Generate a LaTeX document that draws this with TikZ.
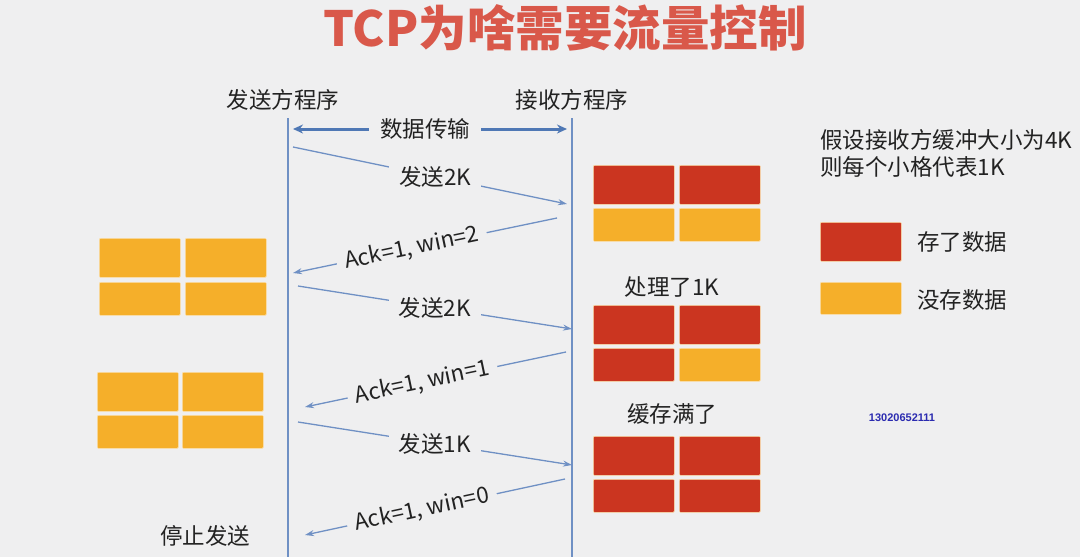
\documentclass[tikz,border=0pt]{standalone}
\usepackage{fontspec}
\setmainfont{Noto Sans CJK SC}
\newfontfamily\numfont{Liberation Sans}
\usetikzlibrary{arrows.meta}
\definecolor{bg}{HTML}{EFEFF0}
\definecolor{cred}{HTML}{CB3520}
\definecolor{cyel}{HTML}{F5AF2A}
\definecolor{ttl}{HTML}{D9584A}
\definecolor{lblue}{HTML}{6F90C4}
\definecolor{dblue}{HTML}{4F78B5}
\definecolor{txt}{HTML}{222222}
\definecolor{numblue}{HTML}{2B2BB0}
\tikzset{
  life/.style={lblue, line width=1.2pt},
  msg/.style={lblue, line width=1.3pt, -{Stealth[length=9pt,width=6pt]}},
  bigarrow/.style={dblue, line width=3pt, -{Stealth[length=10pt,width=9pt]}},
  txtstyle/.style={text=txt, font=\fontsize{22.5}{26}\selectfont, inner sep=0pt},
  lbl/.style={txtstyle, fill=bg, inner xsep=10pt, inner ysep=4pt},
  slbl/.style={txtstyle, fill=bg, sloped, inner xsep=8pt, inner ysep=2pt},
  cellbox/.style={draw=white!60!cyel, line width=0.6pt, rounded corners=1pt, minimum width=81pt, anchor=north west, inner sep=0pt},
  rtop/.style={cellbox, fill=cred, minimum height=39pt},
  rbot/.style={cellbox, fill=cred, minimum height=33pt},
  ytop/.style={cellbox, fill=cyel, minimum height=39pt},
  ybot/.style={cellbox, fill=cyel, minimum height=33pt},
}
\begin{document}
\begin{tikzpicture}[x=1pt,y=-1pt]
\fill[bg] (0,0) rectangle (1080,557);
\useasboundingbox (0,0) rectangle (1080,557);

% title
\node[text=ttl, font=\bfseries\fontsize{48.5}{52}\selectfont, inner sep=0pt] (title) at (565,28) {TCP为啥需要流量控制};

% headers
\node[txtstyle] (snd) at (283,100) {发送方程序};
\node[txtstyle] (rcv) at (572,100) {接收方程序};

% lifelines
\coordinate (Ltop) at (288,118);
\coordinate (Lbot) at (288,557);
\coordinate (Rtop) at (572,118);
\coordinate (Rbot) at (572,557);
\draw[life] (Ltop) -- (Lbot);
\draw[life] (Rtop) -- (Rbot);

% data transfer
\node[txtstyle, inner xsep=11pt] (dt) at (425,129) {数据传输};
\coordinate (dtL) at (293,129);
\coordinate (dtR) at (567,129);
\draw[bigarrow] (dt) -- (dtL);
\draw[bigarrow] (dt) -- (dtR);

% messages
\coordinate (m1s) at (293,147);  \coordinate (m1e) at (567,204);
\coordinate (m2s) at (557,218);  \coordinate (m2e) at (293,273);
\coordinate (m3s) at (298,286);  \coordinate (m3e) at (572,329);
\coordinate (m4s) at (566,352);  \coordinate (m4e) at (305,407);
\coordinate (m5s) at (298,422);  \coordinate (m5e) at (572,465);
\coordinate (m6s) at (565,479);  \coordinate (m6e) at (305,535);

\draw[msg] (m1s) -- node[lbl, pos=0.52] (l1) {发送2K} (m1e);
\draw[msg] (m2s) -- node[slbl, pos=0.55] (l2) {Ack=1, win=2} (m2e);
\draw[msg] (m3s) -- node[lbl] (l3) {发送2K} (m3e);
\draw[msg] (m4s) -- node[slbl, pos=0.55] (l4) {Ack=1, win=1} (m4e);
\draw[msg] (m5s) -- node[lbl] (l5) {发送1K} (m5e);
\draw[msg] (m6s) -- node[slbl, pos=0.55] (l6) {Ack=1, win=0} (m6e);

\node[txtstyle] (stop) at (205,536) {停止发送};

% receiver buffers
\node[rtop] (ra1) at (593,165) {};
\node[rtop] (ra2) at (679,165) {};
\node[ybot] (ra3) at (593,208) {};
\node[ybot] (ra4) at (679,208) {};

\node[txtstyle] (proc) at (672,287) {处理了1K};
\node[rtop] (rb1) at (593,305) {};
\node[rtop] (rb2) at (679,305) {};
\node[rbot] (rb3) at (593,348) {};
\node[ybot] (rb4) at (679,348) {};

\node[txtstyle] (full) at (672,414) {缓存满了};
\node[rtop] (rc1) at (593,436) {};
\node[rtop] (rc2) at (679,436) {};
\node[rbot] (rc3) at (593,479) {};
\node[rbot] (rc4) at (679,479) {};

% sender buffers
\node[ytop] (sa1) at (99,238) {};
\node[ytop] (sa2) at (185,238) {};
\node[ybot] (sa3) at (99,282) {};
\node[ybot] (sa4) at (185,282) {};

\node[ytop] (sb1) at (97,372) {};
\node[ytop] (sb2) at (182,372) {};
\node[ybot] (sb3) at (97,415) {};
\node[ybot] (sb4) at (182,415) {};

% legend
\node[txtstyle, anchor=west] (n1) at (820,140) {假设接收方缓冲大小为4K};
\node[txtstyle, anchor=west] (n2) at (820,167) {则每个小格代表1K};
\node[rtop] (kr) at (820,222) {};
\node[txtstyle, anchor=west] (krt) at (917,242) {存了数据};
\node[cellbox, fill=cyel, minimum height=32pt] (ky) at (820,282) {};
\node[txtstyle, anchor=west] (kyt) at (917,300) {没存数据};

\node[text=numblue, font=\numfont\bfseries\fontsize{11}{12}\selectfont, inner sep=0pt] (num) at (902,418) {13020652111};
\end{tikzpicture}
\end{document}
